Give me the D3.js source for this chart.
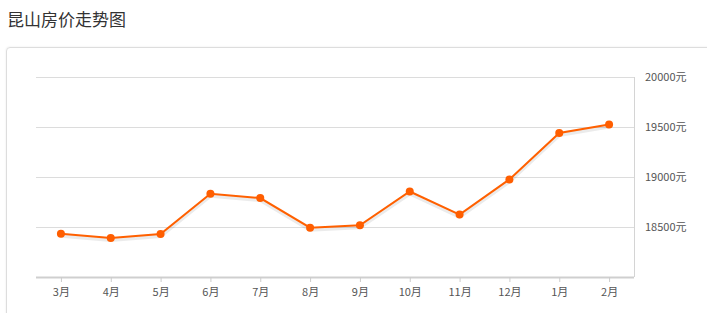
<!DOCTYPE html>
<html>
<head>
<meta charset="utf-8">
<script src="https://cdn.jsdelivr.net/npm/d3@7"></script>
<style>
  body { margin: 0; background: #fff; font-family: 'Noto Sans CJK SC', 'Microsoft YaHei', sans-serif; }
  #chart { position: relative; width: 707px; height: 313px; overflow: hidden; }
  .title { position: absolute; left: 7px; top: 6px; font-size: 17px; color: #333; }
  .panel { position: absolute; left: 6px; top: 47px; width: 720px; height: 300px; border: 1px solid #ddd; border-radius: 4px; box-shadow: 0 0 2px #e6e6e6; }
  svg { position: absolute; left: 0; top: 0; }
</style>
</head>
<body>
<div id="chart">
  <div class="title">昆山房价走势图</div>
  <div class="panel"></div>
</div>
<script>
// months and average price (元/平米)
const months = ['3月', '4月', '5月', '6月', '7月', '8月', '9月', '10月', '11月', '12月', '1月', '2月']
const prices = [18433, 18390, 18430, 18832, 18789, 18493, 18517, 18855, 18624, 18976, 19440, 19525]
const yTicks = [18500, 19000, 19500, 20000]

const margin = { top: 77, right: 73, bottom: 36, left: 36 }
const width = 707 - margin.left - margin.right
const height = 313 - margin.top - margin.bottom

const svg = d3.select('#chart')
  .append('svg')
  .attr('width', 707)
  .attr('height', 313)
  .append('g')
  .attr('transform', `translate(${margin.left}, ${margin.top})`)

const x = d3.scalePoint()
  .domain(months)
  .range([0, width])
  .padding(0.5)

const y = d3.scaleLinear()
  .domain([18000, 20000])
  .range([height, 0])

// gridlines
svg.append('g')
  .selectAll('line')
  .data(yTicks)
  .join('line')
  .attr('x1', 0)
  .attr('x2', width)
  .attr('y1', d => Math.round(y(d)) + 0.5)
  .attr('y2', d => Math.round(y(d)) + 0.5)
  .attr('stroke', '#dcdcdc')

// right axis line
svg.append('line')
  .attr('x1', width + 0.5)
  .attr('x2', width + 0.5)
  .attr('y1', 0)
  .attr('y2', height)
  .attr('stroke', '#d4d4d4')

// right axis labels
svg.append('g')
  .selectAll('text')
  .data(yTicks)
  .join('text')
  .attr('x', width + 11)
  .attr('y', d => y(d))
  .attr('dy', '0.35em')
  .style('font-size', '11px')
  .style('fill', '#555')
  .text(d => d + '元')

// bottom axis
const xAxis = svg.append('g')
  .attr('transform', `translate(0, ${height})`)
  .call(d3.axisBottom(x).tickSize(5).tickPadding(6))
xAxis.select('.domain').attr('stroke', '#cfcfcf').attr('stroke-width', 2).attr('d', `M0,0.5H${width}`)
xAxis.selectAll('.tick line').attr('stroke', '#ccc')
xAxis.selectAll('.tick text')
  .style('font-size', '11px')
  .style('fill', '#555')
  .style('font-family', "'Noto Sans CJK SC', sans-serif")

const line = d3.line()
  .x((d, i) => x(months[i]))
  .y(d => y(d))

// soft shadow below the line
svg.append('path')
  .datum(prices)
  .attr('d', line)
  .attr('transform', 'translate(0, 2)')
  .attr('fill', 'none')
  .attr('stroke', '#000')
  .attr('stroke-opacity', 0.08)
  .attr('stroke-width', 4)

svg.append('path')
  .datum(prices)
  .attr('d', line)
  .attr('fill', 'none')
  .attr('stroke', '#ff6000')
  .attr('stroke-width', 2)

svg.append('g')
  .selectAll('circle')
  .data(prices)
  .join('circle')
  .attr('cx', (d, i) => x(months[i]))
  .attr('cy', d => y(d))
  .attr('r', 4)
  .attr('fill', '#ff5e00')
</script>
</body>
</html>
